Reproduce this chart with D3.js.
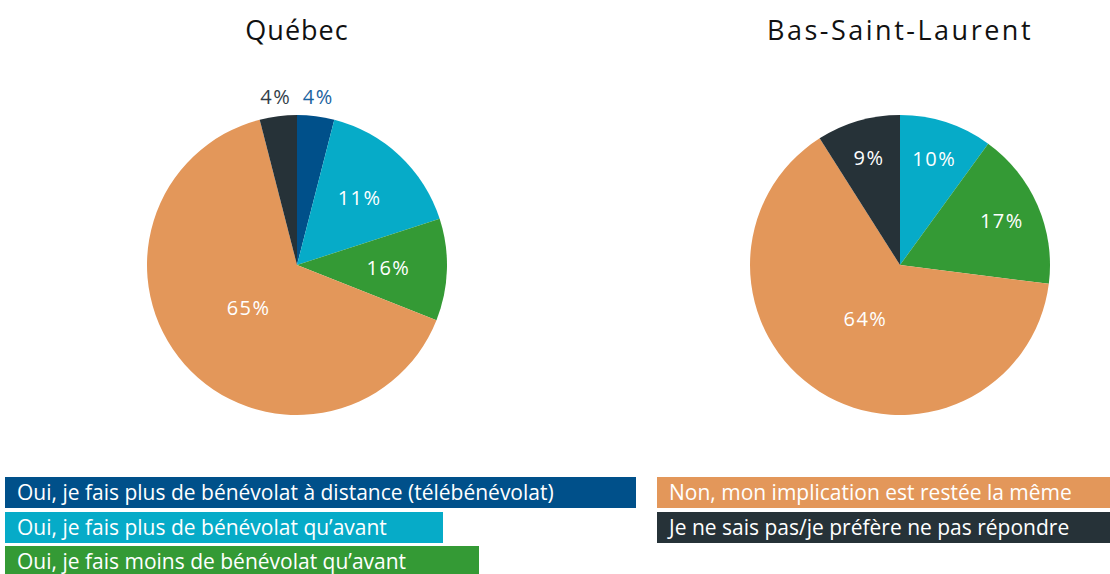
<!DOCTYPE html>
<meta charset="utf-8">
<style>
    body { margin: 0; background: #fff; }
    svg text { font-family: "Open Sans", "Noto Sans", sans-serif; }
</style>
<script src="https://d3js.org/d3.v7.min.js"></script>
<div id="chart"></div>
<script>

    // categories (same order for both pies, clockwise from 12 o'clock)
    var categories = [
        "Oui, je fais plus de bénévolat à distance (télébénévolat)",
        "Oui, je fais plus de bénévolat qu\u2019avant",
        "Oui, je fais moins de bénévolat qu\u2019avant",
        "Non, mon implication est restée la même",
        "Je ne sais pas/je préfère ne pas répondre"
    ];
    var colors = ["#00508a", "#06abc8", "#349a35", "#e3975a", "#263238"];

    var quebecValues = [4, 16, 11, 65, 4];
    var quebecLabels = ["4%", "11%", "16%", "65%", "4%"];
    var bslValues = [0, 10, 17, 64, 9];
    var bslLabels = ["", "10%", "17%", "64%", "9%"];

    var titles = ["Québec", "Bas-Saint-Laurent"];

    var width = 1110, height = 574, r = 150;

    var svg = d3.select("#chart").append("svg")
        .attr("width", width)
        .attr("height", height);

    var pie = d3.pie().sort(null).value(function(d) { return d.value; });
    var arc = d3.arc().innerRadius(0).outerRadius(r);

    function drawPie(cx, cy, title, values, labels, spacing, midR) {
        var g = svg.append("g").attr("transform", "translate(" + cx + "," + cy + ")");

        svg.append("text")
            .attr("x", cx)
            .attr("y", 40)
            .attr("text-anchor", "middle")
            .style("font-size", "27px")
            .style("letter-spacing", spacing)
            .style("fill", "#111")
            .text(title);

        var data = values.map(function(v, i) {
            return {value: v, label: labels[i], color: colors[i]};
        });
        var arcs = pie(data);

        g.selectAll("path")
            .data(arcs)
            .enter()
            .append("path")
            .attr("d", arc)
            .attr("fill", function(d) { return d.data.color; });

        g.selectAll("text.lbl")
            .data(arcs.filter(function(d) { return d.data.label; }))
            .enter()
            .append("text")
            .attr("class", "lbl")
            .attr("text-anchor", "middle")
            .attr("dy", "0.35em")
            .style("font-size", "20px")
            .style("letter-spacing", "1.5px")
            .attr("transform", function(d) {
                var share = d.data.value / 100, rr;
                if (share < 0.06) rr = r + 19;       // thin slices: label outside
                else if (share > 0.5) rr = r * 0.43; // big slice
                else rr = r * midR;
                var a = (d.startAngle + d.endAngle) / 2;
                return "translate(" + (Math.sin(a) * rr) + "," + (-Math.cos(a) * rr) + ")";
            })
            .style("fill", function(d) {
                if (d.data.value / 100 < 0.06) return d.index === 0 ? "#1a63a0" : "#333e48";
                return "#fff";
            })
            .text(function(d) { return d.data.label; });
    }

    drawPie(297, 265, titles[0], quebecValues, quebecLabels, "1px", 0.61);
    drawPie(900, 265, titles[1], bslValues, bslLabels, "2.5px", 0.74);

    // legend boxes
    var legendLayout = [
        {x: 5, y: 477, w: 631},
        {x: 5, y: 512, w: 438},
        {x: 5, y: 546, w: 474},
        {x: 657, y: 477, w: 453},
        {x: 657, y: 512, w: 453}
    ];

    var legend = svg.selectAll("g.legend")
        .data(categories)
        .enter()
        .append("g")
        .attr("class", "legend")
        .attr("transform", function(d, i) {
            return "translate(" + legendLayout[i].x + "," + legendLayout[i].y + ")";
        });

    legend.append("rect")
        .attr("width", function(d, i) { return legendLayout[i].w; })
        .attr("height", 31)
        .attr("fill", function(d, i) { return colors[i]; });

    legend.append("text")
        .attr("x", 12)
        .attr("y", 16)
        .attr("dy", "0.35em")
        .style("font-size", "21px")
        .style("fill", "#fff")
        .text(function(d) { return d; });

</script>
